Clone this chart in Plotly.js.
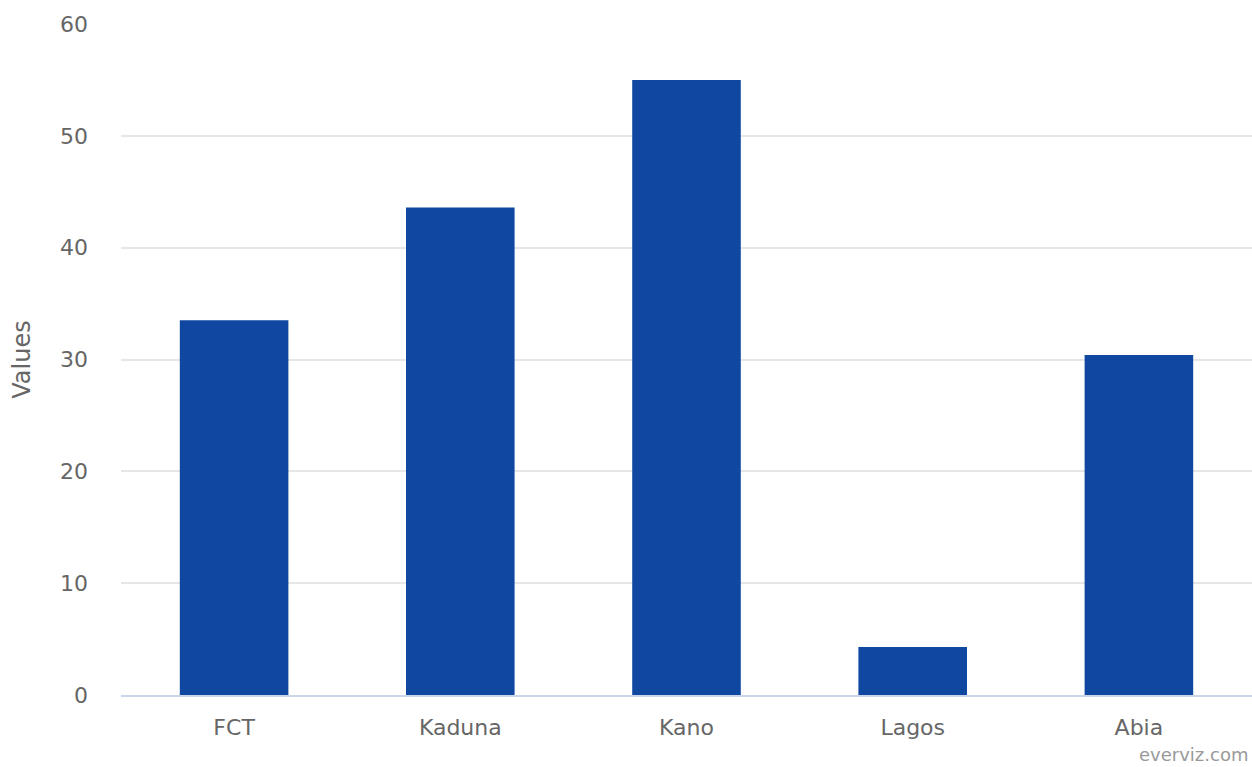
<!DOCTYPE html>
<html>
<head>
<meta charset="utf-8">
<script src="https://cdn.plot.ly/plotly-3.0.1.min.js"></script>
<style>html,body{margin:0;padding:0;background:#fff;}#chart{width:1252px;height:767px;}</style>
</head>
<body>
<div id="chart"></div>
<script>
const categories = ["FCT", "Kaduna", "Kano", "Lagos", "Abia"];
const values = [33.5, 43.6, 55, 4.3, 30.4];
const yTicks = [0, 10, 20, 30, 40, 50, 60];

const trace = {
  type: "bar",
  x: categories,
  y: values,
  marker: {color: "#0f47a1", line: {width: 0}},
  width: 0.48,
  hoverinfo: "x+y"
};

const layout = {
  width: 1252,
  height: 767,
  margin: {l: 121, r: 0, t: 24, b: 72},
  paper_bgcolor: "#ffffff",
  plot_bgcolor: "#ffffff",
  font: {family: "DejaVu Sans", color: "#666666", size: 22},
  showlegend: false,
  xaxis: {
    type: "category",
    showgrid: false,
    zeroline: false,
    showline: true,
    linecolor: "#ccd6eb",
    linewidth: 2,
    ticks: "",
    ticklabelstandoff: 12,
    tickfont: {size: 22, color: "#666666"}
  },
  yaxis: {
    range: [0, 60],
    tickvals: yTicks,
    ticktext: yTicks.map(String),
    showgrid: true,
    gridcolor: "#e6e6e6",
    gridwidth: 2,
    zeroline: false,
    showline: false,
    ticks: "",
    ticklabelstandoff: 32,
    tickfont: {size: 22, color: "#666666"},
    title: {text: "Values", font: {size: 24, color: "#666666"}, standoff: 22}
  },
  annotations: [{
    text: "everviz.com",
    xref: "paper", yref: "paper",
    x: 1, y: 0,
    xanchor: "right", yanchor: "bottom",
    xshift: -3,
    yshift: -71,
    borderpad: 0,
    showarrow: false,
    font: {size: 18, color: "#999999"}
  }]
};

Plotly.newPlot("chart", [trace], layout, {displayModeBar: false, staticPlot: true});
</script>
</body>
</html>
